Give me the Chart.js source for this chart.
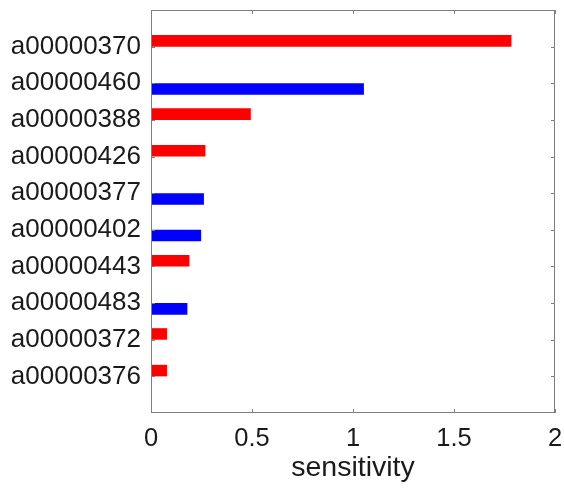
<!DOCTYPE html>
<html>
<head>
<meta charset="utf-8">
<script src="https://cdn.jsdelivr.net/npm/chart.js@4.4.1/dist/chart.umd.min.js"></script>
<style>
  body { margin: 0; background: #fff; }
  #wrap { width: 564px; height: 488px; position: relative; }
</style>
</head>
<body>
<div id="wrap"><canvas id="sensChart"></canvas></div>
<script>
const categories = ['a00000370', 'a00000460', 'a00000388', 'a00000426', 'a00000377',
                    'a00000402', 'a00000443', 'a00000483', 'a00000372', 'a00000376'];
const redValues  = [1.784, 0.004, 0.494, 0.269, 0.004, 0.004, 0.190, 0.004, 0.079, 0.079];
const blueValues = [0.004, 1.054, 0.004, 0.004, 0.262, 0.248, 0.004, 0.180, 0.004, 0.004];
const xTicks = [0, 0.5, 1, 1.5, 2];

const axisColor = '#7f7f7f';
const textColor = '#1a1a1a';

// pad one empty slot each side so the y range runs 0..11 like the original
const labels = [''].concat(categories, ['']);
const pad = arr => [null].concat(arr, [null]);

// box around the plot + inward ticks on all four sides
const boxTicks = {
  id: 'boxTicks',
  afterDraw(chart) {
    const { ctx, chartArea: a, scales: { x, y } } = chart;
    const len = 4;
    ctx.save();
    ctx.strokeStyle = axisColor;
    ctx.lineWidth = 1;
    ctx.strokeRect(a.left + 0.5, a.top + 0.5, a.right - a.left - 1, a.bottom - a.top - 1);
    ctx.beginPath();
    xTicks.forEach(v => {
      const px = Math.round(x.getPixelForValue(v)) + 0.5;
      ctx.moveTo(px, a.bottom); ctx.lineTo(px, a.bottom - len);
      ctx.moveTo(px, a.top); ctx.lineTo(px, a.top + len);
    });
    categories.forEach((c, i) => {
      const py = Math.round(y.getPixelForValue(i + 1)) + 0.5;
      ctx.moveTo(a.left, py); ctx.lineTo(a.left + len, py);
      ctx.moveTo(a.right, py); ctx.lineTo(a.right - len, py);
    });
    ctx.stroke();
    ctx.restore();
  }
};

new Chart(document.getElementById('sensChart').getContext('2d'), {
  type: 'bar',
  data: {
    labels: labels,
    datasets: [
      {
        data: pad(redValues),
        backgroundColor: '#ff0000',
        borderWidth: 0,
      },
      {
        data: pad(blueValues),
        backgroundColor: '#0000ff',
        borderWidth: 0,
      },
    ],
  },
  options: {
    indexAxis: 'y',
    responsive: true,
    maintainAspectRatio: false,
    animation: false,
    categoryPercentage: 0.63,
    barPercentage: 1,
    layout: { padding: { top: 10, right: 9, left: 0, bottom: 0 } },
    scales: {
      x: {
        min: 0,
        max: 2,
        afterBuildTicks: scale => { scale.ticks = xTicks.map(v => ({ value: v })); },
        ticks: {
          color: textColor,
          font: { family: 'Liberation Sans, Arial, sans-serif', size: 25.5 },
          padding: 11,
          maxRotation: 0,
          callback: v => String(v),
        },
        grid: { display: false, drawTicks: false },
        border: { display: false },
        title: {
          display: true,
          text: 'sensitivity',
          color: textColor,
          font: { family: 'Liberation Sans, Arial, sans-serif', size: 28.5 },
          padding: { top: 0, bottom: 3 },
        },
        afterFit: scale => {
          scale.height = 75;
          scale.paddingLeft = 0;
          scale.paddingRight = 0;
        },
      },
      y: {
        offset: false,
        ticks: {
          color: textColor,
          font: { family: 'Liberation Sans, Arial, sans-serif', size: 26 },
          padding: 10,
          autoSkip: false,
        },
        grid: { display: false, drawTicks: false },
        border: { display: false },
        afterFit: scale => {
          scale.width = 151;
          scale.paddingTop = 0;
          scale.paddingBottom = 0;
        },
      },
    },
    plugins: {
      legend: { display: false },
      tooltip: { enabled: false },
    },
  },
  plugins: [boxTicks],
});
</script>
</body>
</html>
